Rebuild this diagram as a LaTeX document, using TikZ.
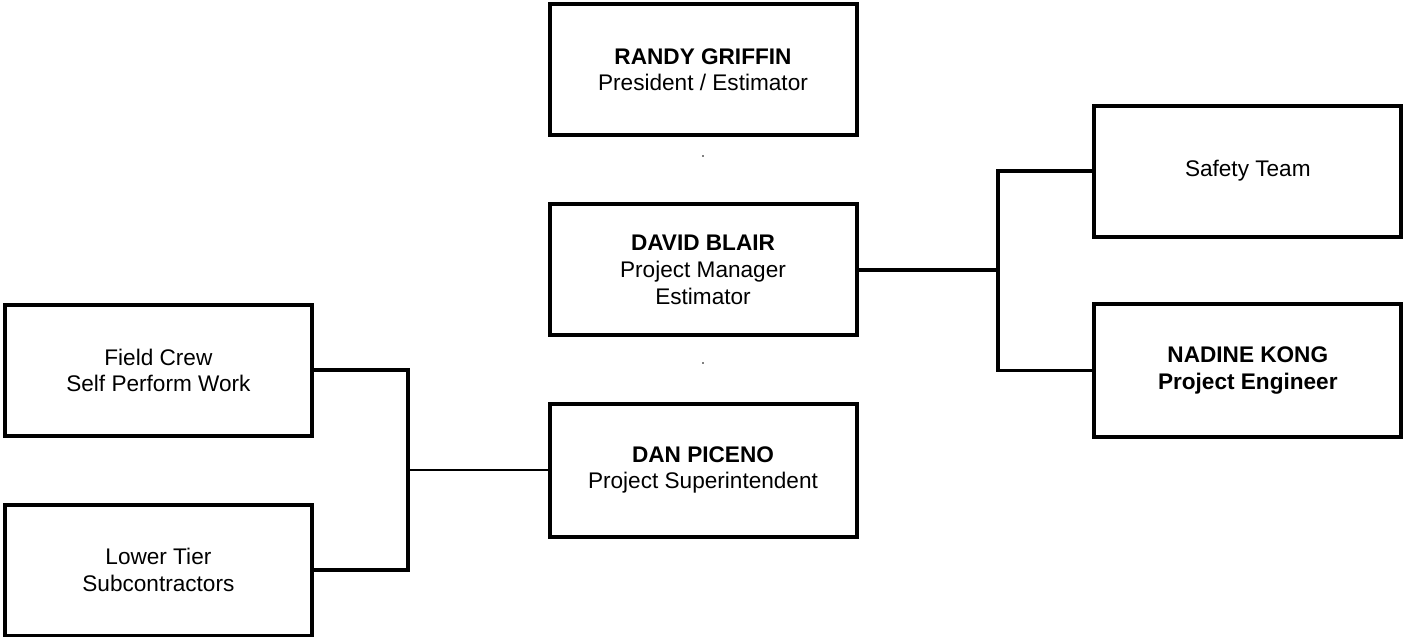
\documentclass[tikz,border=0pt]{standalone}
\usepackage{fontspec}
\setmainfont{Liberation Sans}
\begin{document}
\begin{tikzpicture}[x=0.5pt,y=-0.5pt,
  orgbox/.style={draw=black, line width=2pt, rectangle, inner sep=0pt,
    minimum width=153.5pt, minimum height=65.5pt, align=center,
    font=\fontsize{11.3}{13.3}\selectfont},
  conn/.style={draw=black, line width=1.8pt, line join=miter},
  thinconn/.style={draw=black, line width=1.35pt},
  dotmark/.style={fill=black, draw=none}
]
\useasboundingbox (0,0) rectangle (1403,637);

\node[orgbox] (randy) at (703,69.75) {\textbf{RANDY GRIFFIN}\\President / Estimator};
\node[orgbox] (david) at (703,269.75) {\textbf{DAVID BLAIR}\\Project Manager\\Estimator};
\node[orgbox, minimum height=66.5pt] (dan) at (703,470) {\textbf{DAN PICENO}\\Project Superintendent};
\node[orgbox] (field) at (158.4,370.25) {Field Crew\\Self Perform Work};
\node[orgbox] (lower) at (158.4,570) {Lower Tier\\Subcontractors};
\node[orgbox] (safety) at (1247.8,171) {Safety Team};
\node[orgbox, minimum height=66.3pt] (nadine) at (1247.8,370.4) {\textbf{NADINE KONG}\\\textbf{Project Engineer}};

\fill[dotmark] (703,156) circle (0.45pt);
\fill[dotmark] (703,363) circle (0.45pt);

\coordinate (rbus) at (998,269.75);
\coordinate (lbus) at (408,470);

\draw[conn] (david.east) -- (rbus);
\draw[conn] (safety.west) -| (rbus) |- (nadine.west);
\draw[thinconn] (dan.west) -- (lbus);
\draw[conn] (field.east) -| (lbus) |- (lower.east);
\end{tikzpicture}
\end{document}
